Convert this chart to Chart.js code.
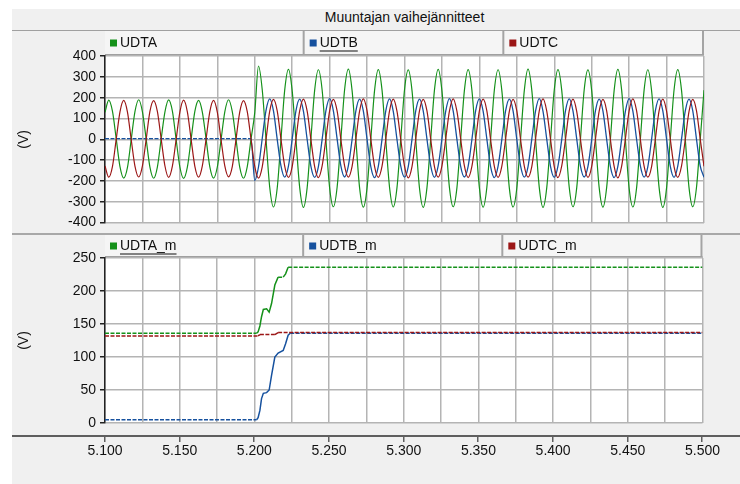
<!DOCTYPE html>
<html>
<head>
<meta charset="utf-8">
<title>Muuntajan vaihejännitteet</title>
<script src="https://cdn.jsdelivr.net/npm/chart.js@4.4.0/dist/chart.umd.min.js"></script>
<style>
  body { margin: 0; background: #fff; }
  #page { position: relative; width: 740px; height: 484px; overflow: hidden; }
  #panel { position: absolute; left: 12px; top: 9px; right: 0; bottom: 0; background: #f0f0f0; }
  #band { position: absolute; left: 12px; top: 9px; right: 0; height: 21px; border-bottom: 1px solid #a0a0a0; }
  #title { position: absolute; left: 105px; width: 599px; top: 9px; height: 21px; line-height: 21px; text-align: center;
           font: 14px 'Liberation Sans', Arial, sans-serif; color: #111; }
  #sep { position: absolute; left: 12px; right: 0; top: 233px; height: 2px; background: #a8a8a8; }
  canvas { position: absolute; left: 0; }
  #c1 { top: 0; }
  #c2 { top: 235px; }
</style>
</head>
<body>
<div id="page">
  <div id="panel"></div>
  <div id="band"></div>
  <div id="title">Muuntajan vaihejännitteet</div>
  <div id="sep"></div>
  <canvas id="c1" width="740" height="235"></canvas>
  <canvas id="c2" width="740" height="249"></canvas>
</div>
<script>
// phase voltages, one sample every dt seconds from t0
const t0 = 5.1;
const dt = 0.0025;

const udta = [
  130, 188, 134, 2, -131, -186, -135, -1,
  133, 190, 132, 0, -134, -187, -132, 1,
  131, 189, 135, -1, -133, -188, -134, 0,
  134, 187, 131, 2, -132, -186, -133, -2,
  132, 190, 133, 0, -135, -187, -131, 1,
  128, 352, 238, 3, -230, -325, -234, -2,
  236, 336, 233, 0, -231, -327, -232, 2,
  235, 334, 237, -1, -233, -324, -230, 0,
  238, 337, 234, 1, -232, -326, -233, -1,
  234, 335, 236, -2, -230, -325, -231, 1,
  237, 333, 235, 0, -234, -327, -232, 0,
  236, 336, 233, 2, -231, -324, -233, -1,
  235, 335, 237, 0, -232, -326, -230, 1,
  237, 334, 234, -1, -233, -325, -234, 0,
  234, 337, 236, 1, -231, -327, -232, -2,
  236, 335, 235, 0, -230, -324, -233, 1,
  238, 333, 234, 2, -232, -326, -231, 0,
  235, 336, 236, -1, -234, -325, -232, -1,
  236, 334, 233, 0, -231, -327, -233, 1,
  237, 335, 235, 1, -232, -324, -230, 0,
  236
];

const udtb = [
  3, 3, 3, 3, 3, 3, 3, 3,
  3, 3, 3, 3, 3, 3, 3, 3,
  3, 3, 3, 3, 3, 3, 3, 3,
  3, 3, 3, 3, 3, 3, 3, 3,
  3, 3, 3, 3, 3, 3, 3, 3,
  -198, -133, 4, 138, 194, 136, 0, -128,
  -182, -129, 1, 137, 193, 135, -1, -130,
  -183, -131, 0, 136, 195, 137, 2, -128,
  -181, -128, -1, 135, 193, 136, 0, -131,
  -184, -130, 1, 137, 194, 134, -2, -129,
  -182, -131, 0, 136, 193, 137, 1, -128,
  -183, -128, 2, 134, 195, 136, 0, -130,
  -181, -130, -1, 137, 194, 135, 1, -131,
  -184, -129, 0, 136, 193, 137, -1, -128,
  -182, -131, 1, 135, 195, 134, 0, -130,
  -183, -128, 0, 137, 194, 136, 2, -129,
  -181, -130, -2, 136, 193, 137, 0, -131,
  -184, -129, 1, 134, 195, 135, -1, -128,
  -182, -131, 0, 137, 194, 136, 1, -130,
  -183, -128, 2, 136, 193, 137, 0, -129,
  -182
];

const udtc = [
  -128, -182, -130, 1, 132, 187, 131, -1,
  -129, -181, -128, 0, 134, 186, 133, 2,
  -127, -183, -129, -1, 131, 188, 132, 0,
  -130, -182, -128, 1, 133, 187, 130, -2,
  -128, -180, -131, 0, 132, 186, 133, 1,
  -130, -186, -132, -2, 135, 192, 137, 1,
  -129, -183, -131, 0, 136, 193, 135, -1,
  -131, -184, -128, 2, 137, 192, 136, 0,
  -128, -182, -130, -1, 135, 194, 137, 1,
  -130, -183, -129, 0, 136, 193, 134, -1,
  -129, -185, -131, 1, 137, 192, 136, 0,
  -131, -182, -128, 0, 135, 194, 135, 2,
  -128, -184, -130, -2, 136, 193, 137, -1,
  -130, -183, -129, 0, 134, 192, 136, 0,
  -129, -182, -131, 1, 137, 194, 135, 1,
  -131, -184, -128, -1, 136, 193, 134, 0,
  -128, -183, -130, 0, 135, 192, 137, -1,
  -130, -185, -129, 2, 137, 194, 136, 0,
  -129, -182, -131, 0, 136, 193, 135, 1,
  -131, -183, -128, -1, 134, 192, 137, 0,
  -130
];

// measured values (UDTx_m) at the times in tm
const tm    = [5.100, 5.2015, 5.2025, 5.2037, 5.2048, 5.2060, 5.2082, 5.2099, 5.2115, 5.2137, 5.2159, 5.2193, 5.2209, 5.2226, 5.2240, 5.500];
const udtaM = [136, 136, 138, 147, 161, 172, 173, 168, 181, 209, 221, 221, 226, 236, 236, 236];
const udtbM = [5, 5, 8, 19, 37, 45, 46, 50, 72, 100, 106, 110, 120, 133, 136, 136];
const udtcM = [132, 132, 132, 134, 134, 134, 134, 134, 134, 134, 137, 137, 137, 137, 137, 137];

const xGrid = [5.100, 5.125, 5.150, 5.175, 5.200, 5.225, 5.250, 5.275, 5.300, 5.325, 5.350, 5.375, 5.400, 5.425, 5.450, 5.475, 5.500];
const xLabels = [5.100, 5.150, 5.200, 5.250, 5.300, 5.350, 5.400, 5.450, 5.500];
const yTop = [-400, -300, -200, -100, 0, 100, 200, 300, 400];
const yBottom = [0, 50, 100, 150, 200, 250];

const names = ['UDTA', 'UDTB', 'UDTC'];
const namesM = ['UDTA_m', 'UDTB_m', 'UDTC_m'];
const colors = ['#15911a', '#16519e', '#9b1616'];

const FONT = "'Liberation Sans', Arial, sans-serif";
Chart.defaults.font.family = FONT;
Chart.defaults.font.size = 14;
Chart.defaults.color = '#111';

// white plot area + legend strip above it
const legendStrip = {
  id: 'legendStrip',
  beforeDraw(chart, args, opts) {
    const {ctx, chartArea: a} = chart;
    const w = (a.right - a.left) / 3;
    const h = a.top - opts.top;
    ctx.save();
    ctx.fillStyle = '#fff';
    ctx.fillRect(a.left, a.top, a.right - a.left, a.bottom - a.top);
    ctx.fillStyle = '#f5f5f5';
    ctx.fillRect(a.left, opts.top, a.right - a.left, h);
    ctx.font = '14px ' + FONT;
    ctx.textBaseline = 'middle';
    opts.names.forEach((n, i) => {
      const x = a.left + i * w;
      const cy = opts.top + h / 2;
      ctx.fillStyle = colors[i];
      ctx.fillRect(x + 5, cy - 4, 7, 7);
      ctx.fillStyle = '#111';
      ctx.fillText(n, x + 15, cy);
      if (i === opts.underline) {
        ctx.fillRect(x + 15, cy + 7, ctx.measureText(n).width, 1);
      }
      ctx.fillStyle = '#a4a4a4';
      ctx.fillRect(x + w - 2, opts.top, 2, h);
    });
    ctx.fillStyle = '#a0a0a0';
    ctx.fillRect(a.left, a.top - 2, a.right - a.left, 2);
    ctx.restore();
  }
};

// detached time axis under the lower plot
const timeAxis = {
  id: 'timeAxis',
  afterDraw(chart, args, opts) {
    if (!opts.y) return;
    const {ctx, scales: {x}} = chart;
    ctx.save();
    ctx.fillStyle = '#5e5e5e';
    ctx.fillRect(12, opts.y, chart.width - 12, 2);
    xLabels.forEach(v => {
      const px = Math.round(x.getPixelForValue(v));
      ctx.fillRect(px - 1, opts.y + 2, 1.5, 5);
    });
    ctx.restore();
  }
};

const flatDash = c => c.p0.parsed.y === c.p1.parsed.y ? [4, 1.5] : undefined;

function series(data, i, smooth, width) {
  return {
    data: data,
    borderColor: colors[i],
    borderWidth: width,
    pointRadius: 0,
    cubicInterpolationMode: smooth ? 'monotone' : 'default',
    tension: 0,
    order: 2 - i,
    segment: { borderDash: flatDash }
  };
}

function scales(yMin, yMax, yTicks, xHeight, showLabels) {
  return {
    x: {
      type: 'linear', min: 5.1, max: 5.5,
      afterBuildTicks: s => { s.ticks = xGrid.map(v => ({value: v})); },
      afterFit: s => { s.height = xHeight; },
      grid: { color: '#b4b4b4', lineWidth: 1.5, drawTicks: false },
      border: { display: false },
      ticks: {
        display: showLabels, autoSkip: false, maxRotation: 0, padding: 20,
        callback: v => xLabels.includes(v) ? v.toFixed(3) : ''
      }
    },
    y: {
      min: yMin, max: yMax,
      afterBuildTicks: s => { s.ticks = yTicks.map(v => ({value: v})); },
      afterFit: s => { s.width = 105; },
      grid: { color: '#b4b4b4', lineWidth: 1.5, tickLength: 5, tickColor: '#222' },
      border: { color: '#222', width: 1.5 },
      ticks: { padding: 4 },
      title: { display: true, text: '(V)', padding: { top: 16, bottom: 0 } }
    }
  };
}

const wave = arr => arr.map((v, i) => ({x: t0 + i * dt, y: v}));
const meas = arr => arr.map((v, i) => ({x: tm[i], y: v}));

new Chart(document.getElementById('c1'), {
  type: 'line',
  data: { datasets: [series(wave(udta), 0, true, 1.2), series(wave(udtb), 1, true, 1.3), series(wave(udtc), 2, true, 1.2)] },
  options: {
    responsive: false, animation: false, events: [],
    layout: { padding: { top: 56, right: 36, bottom: 12, left: 0 } },
    scales: scales(-400, 400, yTop, 0, false),
    plugins: {
      legend: { display: false }, tooltip: { enabled: false },
      legendStrip: { top: 31, names: names, underline: 1 },
      timeAxis: {}
    }
  },
  plugins: [legendStrip, timeAxis]
});

new Chart(document.getElementById('c2'), {
  type: 'line',
  data: { datasets: [series(meas(udtaM), 0, false, 1.5), series(meas(udtbM), 1, false, 1.5), series(meas(udtcM), 2, false, 1.5)] },
  options: {
    responsive: false, animation: false, events: [],
    layout: { padding: { top: 23, right: 36, bottom: 0, left: 0 } },
    scales: scales(0, 250, yBottom, 61, true),
    plugins: {
      legend: { display: false }, tooltip: { enabled: false },
      legendStrip: { top: 0, names: namesM, underline: 0 },
      timeAxis: { y: 200 }
    }
  },
  plugins: [legendStrip, timeAxis]
});
</script>
</body>
</html>
